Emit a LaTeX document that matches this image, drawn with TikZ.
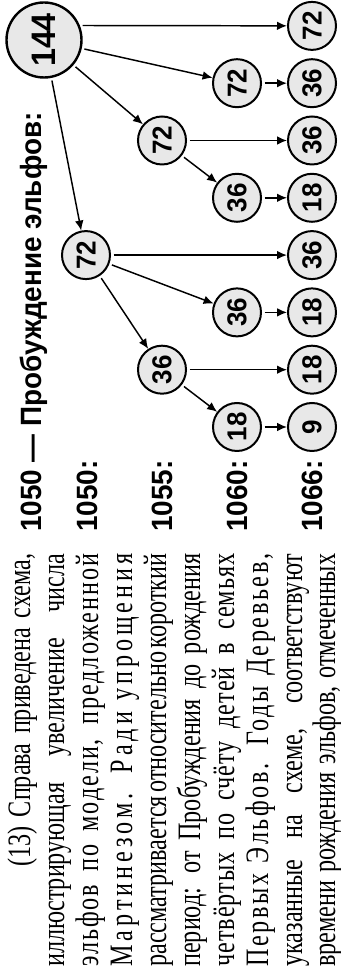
\documentclass[tikz,border=0pt]{standalone}
\usepackage{fontspec}
\usetikzlibrary{arrows.meta}
\newfontfamily\parafont[FakeStretch=0.74]{Liberation Serif}
\newfontfamily\labfont[FakeStretch=0.95]{Liberation Sans}
\definecolor{nodefill}{RGB}{232,232,232}
\newdimen\pxu \pxu=0.75pt
\newcommand\jline[3]{\hbox to #1\pxu{\addfontfeatures{LetterSpace=#2}\spaceskip=.25em plus 1fil minus .2em\relax #3}}
\begin{document}
\begin{tikzpicture}[x=0.75pt,y=0.75pt,rotate=90,transform shape,
  elf/.style={circle,draw,line width=1.5pt,fill=nodefill,minimum size=48\pxu,inner sep=0pt,
    font=\labfont\bfseries\fontsize{20.5pt}{20.5pt}\selectfont},
  bigelf/.style={elf,minimum size=75\pxu,line width=1.8pt,
    font=\labfont\bfseries\fontsize{25.5pt}{25.5pt}\selectfont},
  lab/.style={anchor=base west,inner sep=0pt,font=\labfont\bfseries\fontsize{22pt}{22pt}\selectfont},
  para/.style={anchor=base west,inner sep=0pt,font=\parafont\fontsize{24.5pt}{24.5pt}\selectfont},
  arr/.style={line width=1.1pt,-{Latex[length=7.5pt,width=6.5pt]},shorten <=2pt}]
\fill[white] (0,0) rectangle (971,-340);
\useasboundingbox (0,0) rectangle (971,-340);
% paragraph
\node[para] (p1) at (104,-30) {\jline{313}{0}{(13) Справа приведена схема,}};
\node[para] (p2) at (4,-64) {\jline{413}{0}{иллюстрирующая увеличение числа}};
\node[para] (p3) at (4,-98) {\jline{413}{6}{эльфов по модели, предложенной}};
\node[para] (p4) at (4,-132) {\jline{413}{12}{Мартинезом. Ради упрощения}};
\node[para] (p5) at (4,-166) {\jline{413}{0}{рассматривается относительно короткий}};
\node[para] (p6) at (4,-200) {\jline{413}{0}{период: от Пробуждения до рождения}};
\node[para] (p7) at (4,-234) {\jline{413}{3}{четвёртых по счёту детей в семьях}};
\node[para] (p8) at (4,-268) {\jline{413}{8}{Первых Эльфов. Годы Деревьев,}};
\node[para] (p9) at (4,-302) {\jline{413}{0}{указанные на схеме, соответствуют}};
\node[para] (p10) at (4,-335) {\jline{413}{0}{времени рождения эльфов, отмеченных}};
% labels
\node[lab] (title) at (439,-42) {1050 — Пробуждение эльфов:};
\node[lab] (l50) at (439,-97) {1050:};
\node[lab] (l55) at (439,-172) {1055:};
\node[lab] (l60) at (439,-247) {1060:};
\node[lab] (l66) at (439,-322) {1066:};
% nodes
\node[bigelf] (t) at (931,-44) {144};
\node[elf] (n50) at (715.9,-86) {72};
\node[elf] (n55a) at (601.3,-162) {36};
\node[elf] (n55b) at (830.5,-162) {72};
\node[elf] (n60a) at (544,-237) {18};
\node[elf] (n60b) at (658.6,-237) {36};
\node[elf] (n60c) at (773.2,-237) {36};
\node[elf] (n60d) at (887.8,-237) {72};
\node[elf] (n66a) at (544,-312) {9};
\node[elf] (n66b) at (601.3,-312) {18};
\node[elf] (n66c) at (658.6,-312) {18};
\node[elf] (n66d) at (715.9,-312) {36};
\node[elf] (n66e) at (773.2,-312) {18};
\node[elf] (n66f) at (830.5,-312) {36};
\node[elf] (n66g) at (887.8,-312) {36};
\node[elf] (n66h) at (945.1,-312) {72};
% connectors
\draw[arr] (t) -- (n50);
\draw[arr] (t) -- (n55b);
\draw[arr] (t) -- (n60d);
\draw[arr] (t.-68) -- (n66h);
\draw[arr] (n50) -- (n55a);
\draw[arr] (n50) -- (n60b);
\draw[arr] (n50) -- (n66d);
\draw[arr] (n55b) -- (n60c);
\draw[arr] (n55b) -- (n66f);
\draw[arr] (n55a) -- (n60a);
\draw[arr] (n55a) -- (n66b);
\draw[arr] (n60d) -- (n66g);
\draw[arr] (n60c) -- (n66e);
\draw[arr] (n60b) -- (n66c);
\draw[arr] (n60a) -- (n66a);
\end{tikzpicture}
\end{document}
